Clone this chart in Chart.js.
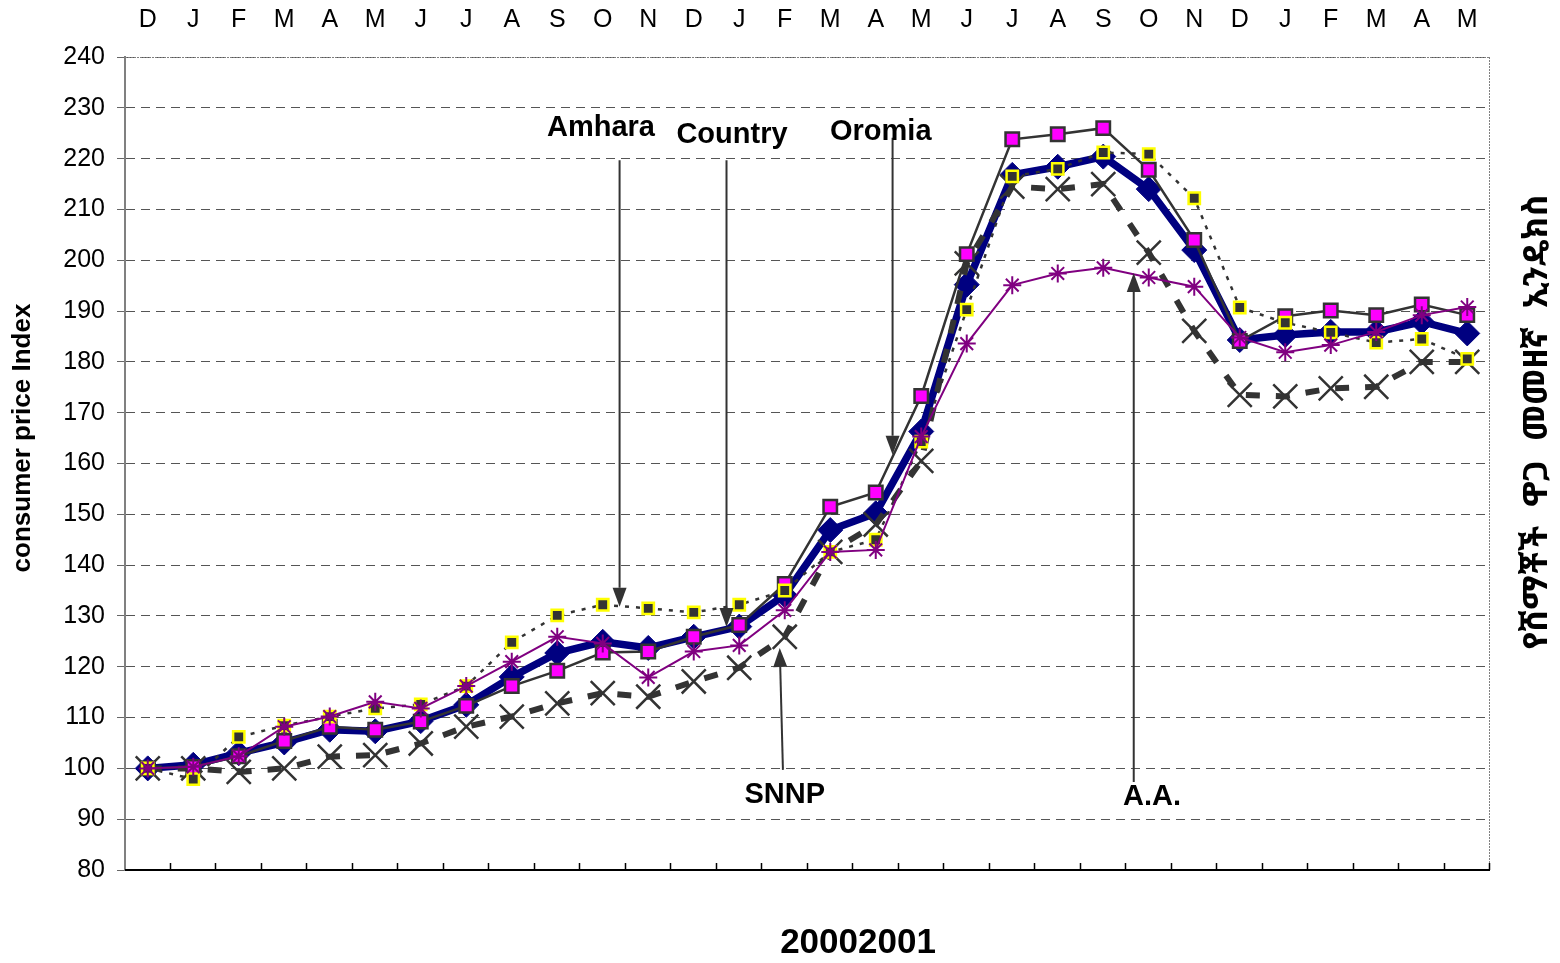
<!DOCTYPE html>
<html><head><meta charset="utf-8">
<script src="https://cdn.jsdelivr.net/npm/chart.js@4/dist/chart.umd.min.js"></script>
<style>html,body{margin:0;padding:0;background:#fff}canvas{display:block}</style>
</head><body>
<canvas id="c" width="1560" height="963"></canvas>
<script>
// ---- data ----
const months = ['D','J','F','M','A','M','J','J','A','S','O','N','D','J','F','M','A','M','J','J','A','S','O','N','D','J','F','M','A','M'];
const yTicks = [80, 240, 10]; // min, max, step
const country = [100, 100.7, 103, 105.1, 107.6, 107.3, 109.3, 112.5, 118, 122.7, 124.9, 123.7, 125.9, 127.9, 134.1, 146.9, 150.2, 166.3, 195.2, 216.8, 218.4, 220.4, 214, 202, 184.3, 185.3, 185.9, 185.9, 187.9, 185.6];
const oromia = [100, 100.3, 102.4, 105.4, 108.2, 107.6, 109.2, 112.3, 116.2, 119.2, 122.8, 123, 125.9, 128.2, 136.3, 151.5, 154.3, 173.3, 201.2, 223.8, 224.8, 226, 217.8, 204, 184.1, 189, 190.1, 189.2, 191.3, 189.2];
const amhara = [100, 97.9, 106.2, 108.4, 110.2, 111.8, 112.6, 116.2, 124.8, 130.1, 132.2, 131.5, 130.7, 132.2, 135, 142.6, 145, 164.3, 190.3, 216.5, 218, 221.2, 220.9, 212.2, 190.7, 187.7, 185.8, 183.8, 184.5, 180.6];
const addisAbaba = [100, 100.3, 102.4, 108.2, 110.2, 113.1, 111.8, 116.2, 121, 125.9, 124.6, 117.9, 123, 124.2, 131.1, 142.6, 143, 165.3, 183.6, 195.1, 197.4, 198.5, 196.6, 194.8, 184.8, 181.9, 183.3, 185.9, 189.2, 190.8];
const snnp = [100, 100, 99.3, 100, 102.3, 102.6, 104.9, 108.2, 110.2, 112.8, 114.8, 114.1, 117.1, 119.8, 125.9, 142.6, 148, 160.5, 199.4, 214.5, 214, 215, 201.5, 186.1, 173.5, 173.2, 174.8, 175.1, 180, 180];
// annotation labels, in data space: text position (category index, value), arrow from -> tip
const noteTexts = ['Amhara', 'Country', 'Oromia', 'SNNP', 'A.A.'];
const noteTextPos = [[9.96, 226.0], [12.84, 224.6], [16.11, 225.2], [14.0, 94.8], [22.07, 94.4]];
const noteArrows = [[10.37, 219.7, 10.37, 131.8], [12.72, 219.7, 12.72, 127.8], [16.37, 224.1, 16.37, 161.7], [13.96, 99.7, 13.89, 123.7], [21.67, 97.3, 21.67, 197.5]];
const yTitle = 'consumer price Index';
const xTitle = '20002001';
const rightTitleWords = ['የሸማቾች', 'ዋጋ', 'መመዘኛ', 'ኢንዴክስ'];

const decor = {
  id: 'decor',
  beforeDatasetsDraw(chart) {
    const {ctx, chartArea: a} = chart;
    ctx.save();
    ctx.strokeStyle = '#808080'; ctx.lineWidth = 1;
    ctx.setLineDash([2, 1]);
    ctx.beginPath();
    ctx.moveTo(a.left, a.top + 0.5); ctx.lineTo(a.right, a.top + 0.5);
    ctx.moveTo(a.right - 0.5, a.top); ctx.lineTo(a.right - 0.5, a.bottom);
    ctx.stroke();
    ctx.setLineDash([]);
    ctx.strokeStyle = '#000'; ctx.lineWidth = 2;
    ctx.beginPath();
    ctx.moveTo(a.left, a.bottom); ctx.lineTo(a.right, a.bottom);
    ctx.stroke();
    ctx.lineWidth = 1.5;
    const n = months.length, w = (a.right - a.left) / n;
    ctx.beginPath();
    for (let k = 1; k <= n; k++) {
      const x = Math.round(a.left + k * w) - 0.5;
      ctx.moveTo(x, a.bottom); ctx.lineTo(x, a.bottom - 7);
    }
    ctx.stroke();
    ctx.restore();
  },
  afterDatasetsDraw(chart) {
    const {ctx} = chart;
    const xs = chart.scales.x, ys = chart.scales.y;
    ctx.save();
    ctx.strokeStyle = '#333'; ctx.fillStyle = '#333'; ctx.lineWidth = 2;
    noteArrows.forEach(([i0, v0, i1, v1]) => {
      const x0 = xs.getPixelForValue(i0), y0 = ys.getPixelForValue(v0);
      const x1 = xs.getPixelForValue(i1), y1 = ys.getPixelForValue(v1);
      const ang = Math.atan2(y1 - y0, x1 - x0);
      const L = 19, H = 7;
      const bx = x1 - L * Math.cos(ang), by = y1 - L * Math.sin(ang);
      ctx.beginPath(); ctx.moveTo(x0, y0); ctx.lineTo(bx, by); ctx.stroke();
      ctx.beginPath();
      ctx.moveTo(x1, y1);
      ctx.lineTo(bx + H * Math.sin(ang), by - H * Math.cos(ang));
      ctx.lineTo(bx - H * Math.sin(ang), by + H * Math.cos(ang));
      ctx.closePath(); ctx.fill();
    });
    ctx.fillStyle = '#000';
    ctx.font = 'bold 29px "Liberation Sans", Arial, sans-serif';
    ctx.textAlign = 'center'; ctx.textBaseline = 'middle';
    noteTexts.forEach((t, k) => {
      ctx.fillText(t, xs.getPixelForValue(noteTextPos[k][0]), ys.getPixelForValue(noteTextPos[k][1]));
    });
    ctx.restore();
  },
  afterDraw(chart) {
    const {ctx} = chart;
    ctx.save();
    ctx.fillStyle = '#000';
    ctx.textAlign = 'center'; ctx.textBaseline = 'middle';
    // y title
    ctx.save();
    ctx.translate(23, 438); ctx.rotate(-Math.PI / 2);
    ctx.font = 'bold 26px "Liberation Sans", Arial, sans-serif';
    ctx.fillText(yTitle, 0, 0);
    ctx.restore();
    // x title
    ctx.font = 'bold 35px "Liberation Sans", Arial, sans-serif';
    ctx.fillText(xTitle, 858, 943);
    // right title, reading bottom to top, spread over y 195..650
    ctx.save();
    ctx.translate(1537, 422); ctx.rotate(-Math.PI / 2);
    ctx.font = 'bold 34px "Noto Sans Ethiopic", "Abyssinica SIL", "DejaVu Sans", serif';
    ctx.textAlign = 'left';
    const total = 455;
    const widths = rightTitleWords.map(w => ctx.measureText(w).width);
    const sum = widths.reduce((p, c) => p + c, 0);
    const gap = Math.max(8, (total - sum) / (rightTitleWords.length - 1));
    let pos = -total / 2;
    rightTitleWords.forEach((w, k) => { ctx.fillText(w, pos, 0); pos += widths[k] + gap; });
    ctx.restore();
    ctx.restore();
  }
};

new Chart(document.getElementById('c'), {
  type: 'line',
  data: {
    labels: months,
    datasets: [
      {label: 'A.A.', data: addisAbaba, order: 1, borderColor: '#800080', borderWidth: 2,
       pointStyle: 'star', pointRadius: 9, pointBorderColor: '#800080', pointBackgroundColor: '#800080', pointBorderWidth: 2},
      {label: 'Amhara', data: amhara, order: 2, borderColor: '#333', borderWidth: 2.5, borderDash: [4, 7],
       pointStyle: 'rect', pointRadius: 8, pointBackgroundColor: '#333', pointBorderColor: '#ffff00', pointBorderWidth: 2.5},
      {label: 'Oromia', data: oromia, order: 3, borderColor: '#333', borderWidth: 2.5,
       pointStyle: 'rect', pointRadius: 9.5, pointBackgroundColor: '#ff00ff', pointBorderColor: '#333', pointBorderWidth: 2.5},
      {label: 'SNNP', data: snnp, order: 4, borderColor: '#333', borderWidth: 6, borderDash: [14, 16],
       pointStyle: 'crossRot', pointRadius: 17, pointBorderColor: '#333', pointBackgroundColor: '#333', pointBorderWidth: 2.5},
      {label: 'Country', data: country, order: 5, borderColor: '#000080', borderWidth: 7.5,
       pointStyle: 'rectRot', pointRadius: 12.5, pointBackgroundColor: '#000080', pointBorderColor: '#000080', pointBorderWidth: 1}
    ]
  },
  options: {
    responsive: false, animation: false,
    layout: {padding: {left: 0, right: 70, top: 0, bottom: 0}},
    elements: {line: {tension: 0, fill: false}, point: {hoverRadius: 0}},
    plugins: {legend: {display: false}, tooltip: {enabled: false}},
    scales: {
      x: {
        type: 'category', position: 'top', offset: true,
        grid: {display: false}, border: {display: false},
        ticks: {autoSkip: false, maxRotation: 0, padding: 14, color: '#000',
                font: {family: '"Liberation Sans", Arial, sans-serif', size: 25}},
        afterFit(s) { s.height = 57; }
      },
      xb: {
        type: 'category', position: 'bottom', offset: true,
        grid: {display: false}, border: {display: false},
        ticks: {display: false},
        afterFit(s) { s.height = 93; }
      },
      y: {
        min: yTicks[0], max: yTicks[1],
        ticks: {stepSize: yTicks[2], padding: 12, color: '#000',
                font: {family: '"Liberation Sans", Arial, sans-serif', size: 25}},
        grid: {color: '#555', lineWidth: 1, tickColor: '#666', tickLength: 8, tickWidth: 1},
        border: {display: true, color: '#808080', width: 2, dash: [9, 6]},
        afterFit(s) { s.width = 125; }
      }
    }
  },
  plugins: [decor]
});
</script>
</body></html>
